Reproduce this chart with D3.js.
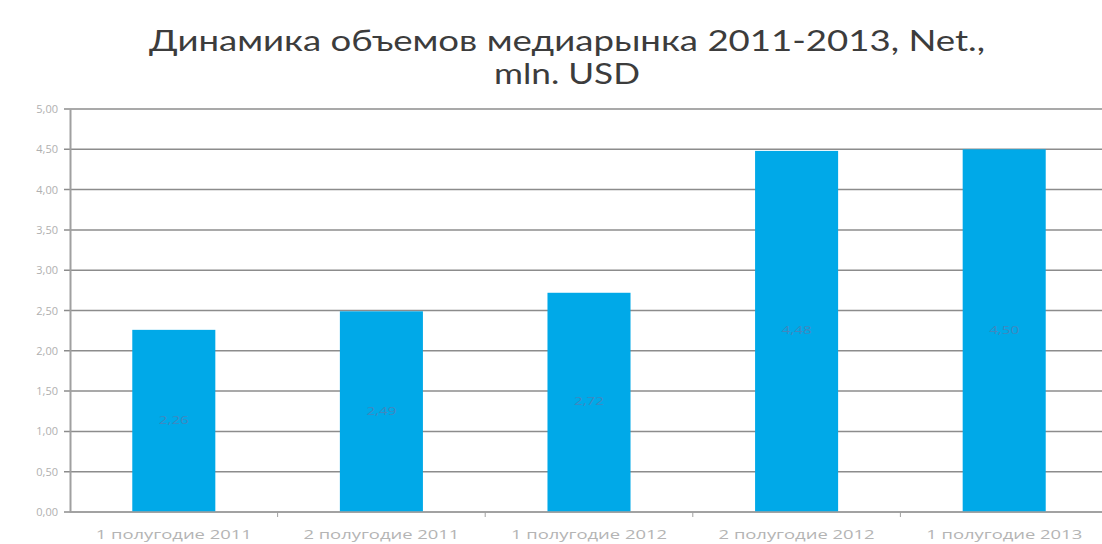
<!DOCTYPE html>
<html>
<head>
<meta charset="utf-8">
<script src="https://cdn.jsdelivr.net/npm/d3@7"></script>
<style>
  body { margin: 0; background: #fff; }
  svg { display: block; }
</style>
</head>
<body>
<script>
// данные
var categories = ["1 полугодие 2011", "2 полугодие 2011", "1 полугодие 2012", "2 полугодие 2012", "1 полугодие 2013"];
var values = [2.26, 2.49, 2.72, 4.48, 4.50];
var yTicks = [0, 0.5, 1, 1.5, 2, 2.5, 3, 3.5, 4, 4.5, 5];
var titleLines = ["Динамика объемов медиарынка 2011-2013, Net.,", "mln. USD"];

var width = 1102, height = 544;
var plotLeft = 70, plotRight = 1108, plotTop = 109, plotBottom = 512;

var svg = d3.select('body').append('svg')
    .attr('width', width)
    .attr('height', height);

var fmt = function(v) { return d3.format('.2f')(v).replace('.', ','); };

var xScale = d3.scaleBand()
    .domain(categories)
    .range([plotLeft, plotRight])
    .paddingInner(0.6)
    .paddingOuter(0.3);

var yScale = d3.scaleLinear()
    .domain([0, 5])
    .range([plotBottom, plotTop]);

// rutnät
svg.append('g').selectAll('line').data(yTicks)
    .enter().append('line')
    .attr('x1', plotLeft - 6)
    .attr('x2', plotRight)
    .attr('y1', function(d) { return yScale(d); })
    .attr('y2', function(d) { return yScale(d); })
    .attr('stroke', '#8c8c8c')
    .attr('stroke-width', 1.5);

// y-axel
var yAxis = d3.axisLeft(yScale).tickValues(yTicks).tickFormat(fmt).tickSize(0).tickPadding(12);
var yg = svg.append('g').attr('transform', 'translate(' + plotLeft + ',0)').call(yAxis);
yg.select('.domain').attr('stroke', '#a0a0a0').attr('stroke-width', 2);
yg.selectAll('text').attr('fill', '#b0b0b0').style('font-family', 'Open Sans, sans-serif').style('font-size', '11px');

// staplar
svg.append('g').selectAll('rect').data(values)
    .enter().append('rect')
    .attr('x', function(d, i) { return xScale(categories[i]); })
    .attr('y', function(d) { return yScale(d); })
    .attr('width', xScale.bandwidth())
    .attr('height', function(d) { return plotBottom - yScale(d); })
    .attr('fill', '#00a9e8');

// etiketter i staplarna
svg.append('g').selectAll('text').data(values)
    .enter().append('text')
    .attr('x', function(d, i) { return xScale(categories[i]) + xScale.bandwidth() / 2; })
    .attr('y', function(d) { return yScale(d / 2) + 3; })
    .attr('text-anchor', 'middle')
    .attr('fill', '#3f88c0')
    .attr('textLength', 30)
    .attr('lengthAdjust', 'spacingAndGlyphs')
    .style('font-family', 'Open Sans, sans-serif')
    .style('font-size', '10px')
    .text(fmt);

// x-axel
var xg = svg.append('g').attr('transform', 'translate(0,' + plotBottom + ')');
xg.append('line').attr('x1', plotLeft).attr('x2', plotRight).attr('stroke', '#a0a0a0').attr('stroke-width', 1.5);
xg.selectAll('.tick').data(categories.slice(1))
    .enter().append('line')
    .attr('x1', function(d) { return xScale(d) - xScale.step() * xScale.paddingInner() / 2; })
    .attr('x2', function(d) { return xScale(d) - xScale.step() * xScale.paddingInner() / 2; })
    .attr('y1', 0).attr('y2', 5)
    .attr('stroke', '#a0a0a0');
xg.selectAll('text').data(categories)
    .enter().append('text')
    .attr('x', function(d) { return xScale(d) + xScale.bandwidth() / 2; })
    .attr('y', 27)
    .attr('text-anchor', 'middle')
    .attr('fill', '#b4b4b4')
    .attr('textLength', 156)
    .attr('lengthAdjust', 'spacingAndGlyphs')
    .style('font-family', 'Open Sans, sans-serif')
    .style('font-size', '12px')
    .text(function(d) { return d; });

// rubrik (bilden är utdragen på bredden)
var titleLengths = [836, 146];
svg.append('g').selectAll('text').data(titleLines)
    .enter().append('text')
    .attr('x', 567)
    .attr('y', function(d, i) { return 51 + i * 33; })
    .attr('text-anchor', 'middle')
    .attr('fill', '#3c3c3c')
    .attr('textLength', function(d, i) { return titleLengths[i]; })
    .attr('lengthAdjust', 'spacingAndGlyphs')
    .style('font-family', 'Lato, sans-serif')
    .style('font-size', '29px')
    .text(function(d) { return d; });
</script>
</body>
</html>
